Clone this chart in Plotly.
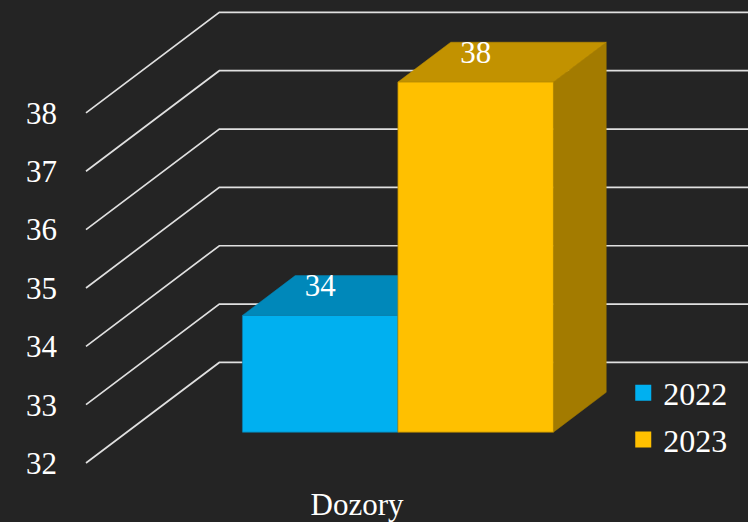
import plotly.graph_objects as go

# ---- data ----
categories = ["Dozory"]
series_names = ["2022", "2023"]
values_2022 = [34]
values_2023 = [38]
y_ticks = [32, 33, 34, 35, 36, 37, 38]

# ---- styling / projection constants ----
PX_PER_UNIT = 58.6          # vertical pixels per value unit
SLANT = 1.32                # horizontal px shift per vertical px of depth
BASE = 32                   # axis minimum
FRONT_DEPTH = 31            # depth (px) of bar front face
BACK_DEPTH = 71             # depth (px) of bar back face
WALL_DEPTH = 101            # depth (px) of back wall
GRID_X0 = 86
CAT_CENTER = 357
BAR_W = 155.5
LABEL_LIFT = 27             # px above front top edge

front_cols = ["#00B0F0", "#FFC000"]
top_cols = ["#0088BA", "#C29200"]
side_cols = ["#007BA8", "#A37B00"]
edge_cols = ["#0A7DAA", "#B38600"]
BG = "#242424"
FONT = "Liberation Serif"


def proj(x, v, depth):
    """oblique projection: depth in px -> shift right and up"""
    return x + depth * SLANT, v + depth / PX_PER_UNIT


fig = go.Figure()

# grid: front diagonal + back wall horizontal
for t in y_ticks:
    xw, yw = proj(GRID_X0, t, WALL_DEPTH)
    fig.add_trace(go.Scatter(
        x=[GRID_X0, xw, 748], y=[t, yw, yw], mode="lines",
        line=dict(color="#E0E0E0", width=1.7), hoverinfo="skip", showlegend=False))

series_vals = [values_2022, values_2023]
for i, vals in enumerate(series_vals):
    for c, v in enumerate(vals):
        x0 = CAT_CENTER - BAR_W + i * BAR_W
        x1 = x0 + BAR_W
        fl = proj(x0, BASE, FRONT_DEPTH)
        fr = proj(x1, BASE, FRONT_DEPTH)
        ftl = proj(x0, v, FRONT_DEPTH)
        ftr = proj(x1, v, FRONT_DEPTH)
        btl = proj(x0, v, BACK_DEPTH)
        btr = proj(x1, v, BACK_DEPTH)
        br = proj(x1, BASE, BACK_DEPTH)
        # side face
        fig.add_trace(go.Scatter(
            x=[fr[0], br[0], btr[0], ftr[0], fr[0]],
            y=[fr[1], br[1], btr[1], ftr[1], fr[1]],
            mode="lines", fill="toself", fillcolor=side_cols[i],
            line=dict(color=side_cols[i], width=0.5), hoverinfo="skip", showlegend=False))
        # top face
        fig.add_trace(go.Scatter(
            x=[ftl[0], btl[0], btr[0], ftr[0], ftl[0]],
            y=[ftl[1], btl[1], btr[1], ftr[1], ftl[1]],
            mode="lines", fill="toself", fillcolor=top_cols[i],
            line=dict(color=top_cols[i], width=0.5), hoverinfo="skip", showlegend=False))
        # front face
        fig.add_trace(go.Scatter(
            x=[fl[0], fr[0], ftr[0], ftl[0], fl[0]],
            y=[fl[1], fr[1], ftr[1], ftl[1], fl[1]],
            mode="lines", fill="toself", fillcolor=front_cols[i],
            line=dict(color=edge_cols[i], width=0.7), hoverinfo="skip", showlegend=False))
    # data labels
    pts = [proj(CAT_CENTER - BAR_W + i * BAR_W + BAR_W / 2, v, FRONT_DEPTH) for v in vals]
    fig.add_trace(go.Scatter(
        x=[p[0] for p in pts], y=[p[1] + LABEL_LIFT / PX_PER_UNIT for p in pts],
        mode="text", text=[str(v) for v in vals],
        textposition="middle center",
        textfont=dict(family=FONT, size=31, color="#FFFFFF"),
        hoverinfo="skip", showlegend=False))

# legend entries
for i, name in enumerate(series_names):
    fig.add_trace(go.Scatter(
        x=[None], y=[None], mode="markers", name=name, legendgroup=name,
        marker=dict(symbol="square", size=16, color=front_cols[i])))

y_top = BASE + 465 / PX_PER_UNIT
y_bot = BASE - 5 / PX_PER_UNIT

fig.update_layout(
    width=748, height=522,
    margin=dict(l=70, r=0, t=0, b=52),
    paper_bgcolor=BG, plot_bgcolor=BG,
    font=dict(family=FONT, color="#FFFFFF", size=31),
    xaxis=dict(range=[70, 748], showgrid=False, zeroline=False, showline=False,
               tickvals=[CAT_CENTER], ticktext=categories, ticks="",
               tickfont=dict(family=FONT, size=31, color="#FFFFFF"),
               ticklabelstandoff=15, fixedrange=True),
    yaxis=dict(range=[y_bot, y_top], showgrid=False, zeroline=False, showline=False,
               tickvals=y_ticks, ticks="",
               tickfont=dict(family=FONT, size=31, color="#FFFFFF"),
               ticklabelstandoff=12, fixedrange=True),
    legend=dict(x=0.816, y=0.219, xanchor="left", yanchor="top",
                bgcolor="rgba(0,0,0,0)", font=dict(family=FONT, size=32, color="#FFFFFF"),
                tracegroupgap=2, itemclick=False, itemdoubleclick=False),
    showlegend=True,
)

fig.write_html("out.html", config={"displayModeBar": False},
               post_script="document.body.style.margin='0';document.body.style.background='#242424';")
